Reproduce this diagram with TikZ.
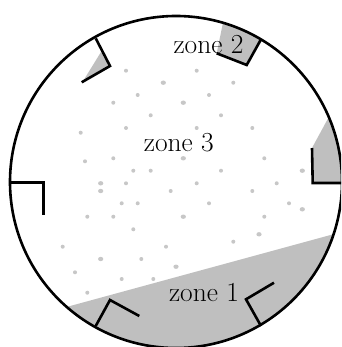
\documentclass[tikz,border=0pt]{standalone}
\begin{document}
\begin{tikzpicture}[x=1pt,y=-1pt,
  wall/.style={line width=2.6pt,line join=miter},
  zonefill/.style={fill=black!25},
  dot/.style={fill=black!22},
  zlabel/.style={anchor=base,font=\fontsize{27.5}{32}\selectfont,inner sep=0pt}]
\useasboundingbox (0,0) rectangle (341,347);
\clip (0,0) rectangle (341,347);
\coordinate (c) at (176,182);
% grey zones
\begin{scope}
  \clip (c) circle (166);
  \fill[zonefill] (0,325.1) -- (350,229.7) -- (350,360) -- (0,360) -- cycle;
  \fill[zonefill] (226,8) -- (216.7,53.3) -- (246.7,65) -- (275,20) -- cycle;
  \fill[zonefill] (312.5,147) -- (331,113) -- (360,113) -- (360,183) -- (312.5,183) -- cycle;
\end{scope}
\fill[zonefill] (101,52) -- (110,66) -- (82.5,82) -- cycle;
% dots
\foreach \p in {(126,70.7),(196.7,70.7),(233.3,82.7),(113.3,102.7),(137.7,95),(209,95),
  (150.7,115.3),(221,115.3),(80.7,132.7),(126,128),(196.7,128),(252.3,128),(85,161.3),
  (113.3,158.3),(264.3,158.3),(133.3,170.7),(150.7,170.7),(221,170.7),(126,183.3),
  (196.7,183.3),(276.7,183.3),(170.7,191),(252.3,191),(121.7,203.3),(137.7,203.3),
  (209,203.3),(289,203.3),(87.3,216.7),(113.3,216.7),(264.3,216.7),(133.3,229.3),
  (233.3,241.7),(62.7,246.7),(166,246.7),(141.3,259),(75,272.3),(121.7,279),
  (153.3,279),(87.3,292.7)}
  \fill[dot] \p circle (2);
\foreach \p in {(163.3,82.7),(183.3,102.7),(183.3,158.3),(302.3,170.7),(100.7,183.3),
  (100.7,191),(302.3,209.3),(183.3,216.7),(259,234.3),(100.7,259),(176,266.7)}
  \fill[dot] \p ellipse (2.6 and 2.2);
% outer wall
\draw[wall] (c) circle (166);
% inner walls
\draw[wall] (95.7,38.3) -- (110,66) -- (81.7,82.3);
\draw[wall] (261,39.3) -- (246.7,65) -- (216.7,53.3);
\draw[wall] (312,148) -- (312.7,183) -- (345,183);
\draw[wall] (10,182.7) -- (43.3,182.7) -- (43.3,215);
\draw[wall] (95.7,326) -- (110,300) -- (139.3,316);
\draw[wall] (261,326) -- (246,299.3) -- (274,282.7);
% labels
\node[zlabel] (z3) at (178.8,151.7) {zone 3};
\node[zlabel] (z2) at (208.5,53.5) {zone 2};
\node[zlabel] (z1) at (204,301) {zone 1};
\end{tikzpicture}
\end{document}
